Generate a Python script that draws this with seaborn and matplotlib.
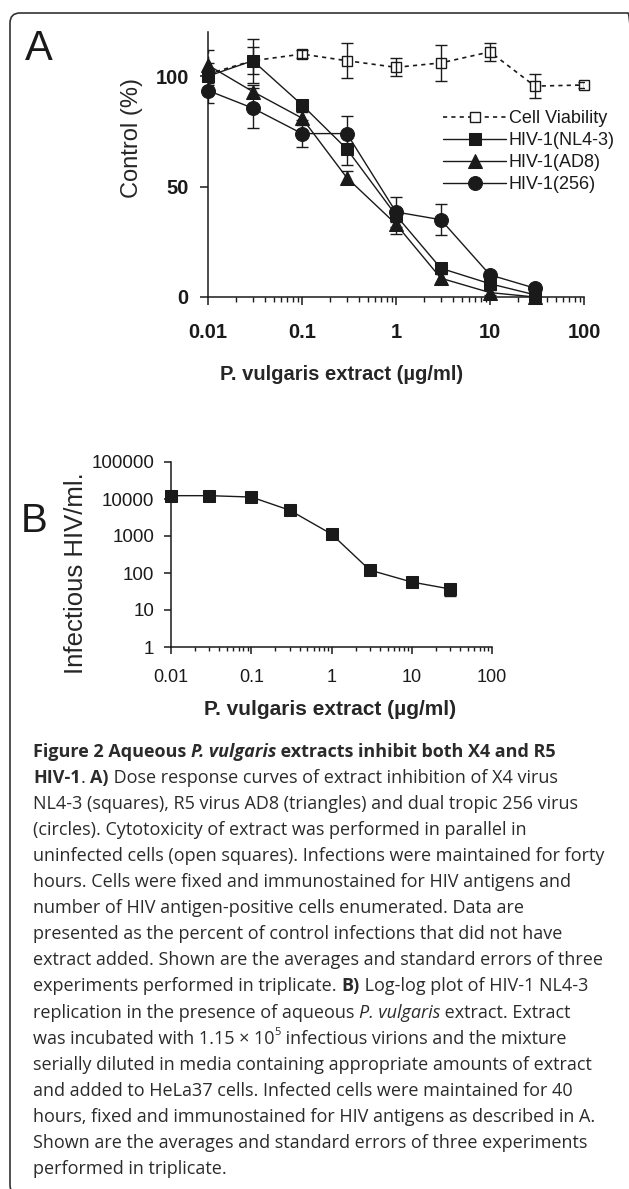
import numpy as np
import matplotlib
matplotlib.use('Agg')
import matplotlib.pyplot as plt
import seaborn as sns
from matplotlib import font_manager
from matplotlib.font_manager import FontProperties
from matplotlib.patches import FancyBboxPatch
from matplotlib.transforms import IdentityTransform
from matplotlib.ticker import LogLocator, NullFormatter

# ---- panel A: % of control vs extract concentration ----
conc_a = [0.01, 0.03, 0.1, 0.3, 1, 3, 10, 30, 100]
viability = [101, 107, 110, 107, 104, 106, 111, 95.5, 96]
viability_err = [5, 10, 2, 8, 4, 8, 4, 5.5, 1.5]

conc_hiv = [0.01, 0.03, 0.1, 0.3, 1, 3, 10, 30]
nl43 = [100, 107, 87, 67, 37, 13, 6, 1]
nl43_err = [3, 6, 2, 7, 3, 2, 1, 1]
ad8 = [105, 93, 81, 54, 33, 8.5, 2, 0]
ad8_err = [7, 3, 3, 3, 4.5, 2, 1, 0.5]
hiv256 = [93.5, 85.5, 74, 74, 38.5, 35, 10, 4]
hiv256_err = [5.5, 9, 6, 8, 7, 7, 1.5, 1]

legend_a = ['Cell Viability', 'HIV-1(NL4-3)', 'HIV-1(AD8)', 'HIV-1(256)']

# ---- panel B: infectious titer (log-log) ----
conc_b = [0.01, 0.03, 0.1, 0.3, 1, 3, 10, 30]
titer = [12300, 12300, 11300, 5000, 1130, 120, 57, 37]
titer_err = [1000, 800, 900, 500, 100, 15, 6, 13]

xticks = [0.01, 0.1, 1, 10, 100]
xtick_labels = ['0.01', '0.1', '1', '10', '100']
yticks_a = [0, 50, 100]
yticks_b = [1, 10, 100, 1000, 10000, 100000]
ytick_labels_b = ['1', '10', '100', '1000', '10000', '100000']

xlabel = 'P. vulgaris extract (µg/ml)'

caption = [
    [('Figure 2 Aqueous ', 'b'), ('P. vulgaris', 'bi'), (' extracts inhibit both X4 and R5', 'b')],
    [('HIV-1', 'b'), ('. ', 'r'), ('A)', 'b'), (' Dose response curves of extract inhibition of X4 virus', 'r')],
    [('NL4-3 (squares), R5 virus AD8 (triangles) and dual tropic 256 virus', 'r')],
    [('(circles). Cytotoxicity of extract was performed in parallel in', 'r')],
    [('uninfected cells (open squares). Infections were maintained for forty', 'r')],
    [('hours. Cells were fixed and immunostained for HIV antigens and', 'r')],
    [('number of HIV antigen-positive cells enumerated. Data are', 'r')],
    [('presented as the percent of control infections that did not have', 'r')],
    [('extract added. Shown are the averages and standard errors of three', 'r')],
    [('experiments performed in triplicate. ', 'r'), ('B)', 'b'), (' Log-log plot of HIV-1 NL4-3', 'r')],
    [('replication in the presence of aqueous ', 'r'), ('P. vulgaris', 'i'), (' extract. Extract', 'r')],
    [('was incubated with 1.15 × 10', 'r'), ('5', 'sup'), (' infectious virions and the mixture', 'r')],
    [('serially diluted in media containing appropriate amounts of extract', 'r')],
    [('and added to HeLa37 cells. Infected cells were maintained for 40', 'r')],
    [('hours, fixed and immunostained for HIV antigens as described in A.', 'r')],
    [('Shown are the averages and standard errors of three experiments', 'r')],
    [('performed in triplicate.', 'r')],
]

W, H = 629, 1189
INK = '#1a1a1a'

sns.set_theme(style='ticks')
plt.rcParams['font.family'] = ['Liberation Sans', 'DejaVu Sans']
plt.rcParams['axes.edgecolor'] = INK
plt.rcParams['axes.linewidth'] = 1.1
plt.rcParams['text.color'] = INK
plt.rcParams['xtick.color'] = INK
plt.rcParams['ytick.color'] = INK


def px_box(left, top, right, bottom):
    return [left / W, 1 - bottom / H, (right - left) / W, (bottom - top) / H]


fig = plt.figure(figsize=(W / 100, H / 100), dpi=100)
fig.patch.set_facecolor('white')

# ---------------- panel A ----------------
ax = fig.add_axes(px_box(208, 32, 584, 297))
ax.set_xscale('log')

handles = []
sns.lineplot(x=conc_a, y=viability, ax=ax, color=INK, errorbar=None,
             linestyle=(0, (2.5, 2.5)), linewidth=1.2, marker='s', markersize=7.5,
             markerfacecolor='white', markeredgecolor=INK, markeredgewidth=1.0,
             clip_on=False)
handles.append(ax.lines[-1])
sns.lineplot(x=conc_hiv, y=nl43, ax=ax, color=INK, errorbar=None, linewidth=1.0,
             marker='s', markersize=8.5, markeredgecolor=INK, clip_on=False)
handles.append(ax.lines[-1])
sns.lineplot(x=conc_hiv, y=ad8, ax=ax, color=INK, errorbar=None, linewidth=1.0,
             marker='^', markersize=10, markeredgecolor=INK, clip_on=False)
handles.append(ax.lines[-1])
sns.lineplot(x=conc_hiv, y=hiv256, ax=ax, color=INK, errorbar=None, linewidth=1.0,
             marker='o', markersize=10, markeredgecolor=INK, clip_on=False)
handles.append(ax.lines[-1])

for xs, ys, es in [(conc_a, viability, viability_err), (conc_hiv, nl43, nl43_err),
                   (conc_hiv, hiv256, hiv256_err)]:
    ax.errorbar(xs, ys, yerr=es, fmt='none', ecolor=INK, elinewidth=1.0,
                capsize=4.5, capthick=1.0)
eb = ax.errorbar(conc_hiv, ad8, yerr=ad8_err, fmt='none', ecolor=INK,
                 elinewidth=1.0, capsize=4.5, capthick=1.0)
eb.lines[2][0].set_linestyle((0, (2, 2)))

ax.set_xlim(0.01, 100)
ax.set_ylim(0, 120)
ax.set_xticks(xticks, labels=xtick_labels)
ax.xaxis.set_minor_locator(LogLocator(base=10, subs=(2, 3, 4, 5, 6, 7, 8, 9)))
ax.xaxis.set_minor_formatter(NullFormatter())
ax.set_yticks(yticks_a)
plt.setp(ax.get_xticklabels() + ax.get_yticklabels(), fontweight='bold')
ax.tick_params(which='major', direction='out', length=5.8, width=1.1, labelsize=14.5)
ax.tick_params(axis='x', which='major', pad=13)
ax.tick_params(axis='y', which='major', pad=8)
ax.tick_params(axis='x', which='minor', direction='out', length=3.3, width=1.0)
sns.despine(ax=ax)

ax.set_ylabel('Control (%)', fontsize=17)
ax.yaxis.set_label_coords(-0.173, 0.60)
ax.set_xlabel(xlabel, fontsize=14.5, fontweight='bold')
ax.xaxis.set_label_coords(0.355, -0.255)

ax.legend(handles=handles, labels=legend_a, loc='upper left',
          bbox_to_anchor=((443 - 208) / 376, (297 - 110) / 265),
          frameon=False, fontsize=13, handlelength=3.5, handletextpad=0.15,
          labelspacing=0.28, borderpad=0, borderaxespad=0)

# ---------------- panel B ----------------
bx = fig.add_axes(px_box(171, 462, 492, 647))
bx.set_xscale('log')
bx.set_yscale('log')
sns.lineplot(x=conc_b, y=titer, ax=bx, color=INK, errorbar=None, linewidth=1.0,
             marker='s', markersize=8.5, markeredgecolor=INK, clip_on=False)
bx.errorbar(conc_b, titer, yerr=titer_err, fmt='none', ecolor=INK, elinewidth=1.0,
            capsize=4.5, capthick=1.0)

bx.set_xlim(0.01, 100)
bx.set_ylim(1, 100000)
bx.set_xticks(xticks, labels=xtick_labels)
bx.set_yticks(yticks_b, labels=ytick_labels_b)
for axis in (bx.xaxis, bx.yaxis):
    axis.set_minor_locator(LogLocator(base=10, subs=(2, 3, 4, 5, 6, 7, 8, 9)))
    axis.set_minor_formatter(NullFormatter())
bx.tick_params(which='major', direction='out', length=5, width=1.1)
bx.tick_params(axis='x', which='major', labelsize=13, pad=11)
bx.tick_params(axis='y', which='major', labelsize=13.5, pad=7)
bx.tick_params(axis='x', which='minor', direction='out', length=3, width=1.0)
bx.tick_params(axis='y', which='minor', direction='inout', length=4, width=0.9)
sns.despine(ax=bx)

bx.set_ylabel('Infectious HIV/ml.', fontsize=18.5)
bx.yaxis.set_label_coords(-0.26, 0.40)
bx.set_xlabel(xlabel, fontsize=15, fontweight='bold')
bx.xaxis.set_label_coords(0.495, -0.285)

# panel letters
fig.text(25 / W, 1 - 60 / H, 'A', fontsize=30, va='baseline', ha='left')
fig.text(21 / W, 1 - 532 / H, 'B', fontsize=29, va='baseline', ha='left')

# ---------------- caption ----------------
names = {f.name for f in font_manager.fontManager.ttflist}
cap_font = 'Open Sans'
for cand in ['Liberation Sans Narrow', 'Open Sans']:
    if cand in names:
        cap_font = cand
        break

STYLE = {'r': ('normal', 'normal'), 'b': ('bold', 'normal'), 'i': ('normal', 'italic'),
         'bi': ('bold', 'italic'), 'sup': ('normal', 'normal')}
renderer = fig.canvas.get_renderer()


def props(style, size):
    weight, slant = STYLE[style]
    if style == 'sup':
        size = size * 0.62
    return FontProperties(family=cap_font, size=size, weight=weight, style=slant)


def advance(s, prop):
    w1, _, _ = renderer.get_text_width_height_descent('|' + s + '|', prop, ismath=False)
    w0, _, _ = renderer.get_text_width_height_descent('||', prop, ismath=False)
    return w1 - w0


base = 12.0
widest = max(sum(advance(t, props(s, base)) for t, s in parts) for parts in caption)
cap_size = base * 570 / widest

for i, parts in enumerate(caption):
    x = 33.0
    y = 757 + i * 26.05
    for t, s in parts:
        p = props(s, cap_size)
        dy = -0.45 * cap_size * 100 / 72 if s == 'sup' else 0
        fig.text(x / W, 1 - (y + dy) / H, t, fontproperties=p, va='baseline',
                 ha='left', color='#2b2b2b')
        x += advance(t, p)

# rounded frame (cut by right and bottom edges)
frame = FancyBboxPatch((10, -6), 628, 1182, boxstyle='round,pad=0,rounding_size=10',
                       transform=IdentityTransform(), fill=False,
                       edgecolor='#333333', linewidth=1.2)
fig.add_artist(frame)

fig.savefig('out.png', dpi=100, facecolor='white')
